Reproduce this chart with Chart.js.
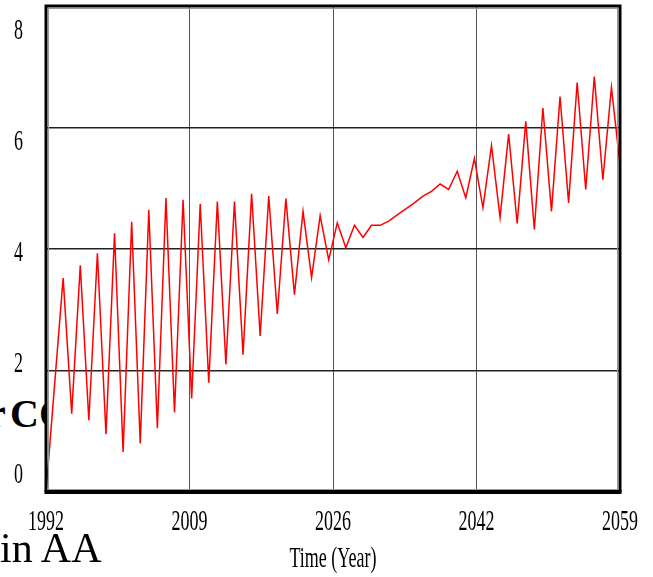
<!DOCTYPE html>
<html><head><meta charset="utf-8">
<script src="https://cdn.jsdelivr.net/npm/chart.js@4"></script>
<style>
html,body{margin:0;padding:0;background:#fff;overflow:hidden}
#wrap{position:relative;width:653px;height:577px}
#c{position:absolute;left:0;top:0;z-index:1}
.bg{position:absolute;font-family:'Liberation Serif','Times New Roman',serif;line-height:1;white-space:nowrap;color:#000}
</style></head>
<body><div id="wrap">
<div class="bg" style="left:-12px;top:394px;font-size:40px;font-weight:bold;word-spacing:-5px;z-index:0">r CO</div>
<div class="bg" style="left:0px;top:527px;font-size:42px;z-index:2">in AA</div>
<canvas id="c" width="653" height="577"></canvas>
</div>
<script>
const years = [1992,1993,1994,1995,1996,1997,1998,1999,2000,2001,2002,2003,2004,2005,2006,2007,2008,2009,2010,2011,2012,2013,2014,2015,2016,2017,2018,2019,2020,2021,2022,2023,2024,2025,2026,2027,2028,2029,2030,2031,2032,2033,2034,2035,2036,2037,2038,2039,2040,2041,2042,2043,2044,2045,2046,2047,2048,2049,2050,2051,2052,2053,2054,2055,2056,2057,2058,2059];
const values = [0,1.76,3.52,1.29,3.73,1.18,3.93,0.95,4.26,0.66,4.45,0.80,4.64,1.05,4.84,1.31,4.81,1.54,4.74,1.80,4.78,2.10,4.78,2.26,4.91,2.57,4.87,2.93,4.83,3.25,4.62,3.53,4.55,3.82,4.43,4.02,4.39,4.19,4.39,4.39,4.46,4.56,4.66,4.76,4.87,4.95,5.07,4.98,5.28,4.84,5.49,4.68,5.70,4.52,5.89,4.42,6.10,4.32,6.32,4.62,6.51,4.76,6.74,4.98,6.84,5.14,6.66,5.39];
const xTickLabels = ['1992','2009','2026','2042','2059'];
const yTickLabels = ['0','2','4','6','8'];
const xTitle = 'Time (Year)';

const FONT = '30px "Liberation Serif", "Times New Roman", serif';
const SQUEEZE = 0.6;
function drawCondensed(ctx, text, x, y){
  ctx.save(); ctx.translate(x, y); ctx.scale(SQUEEZE, 1); ctx.fillText(text, 0, 0); ctx.restore();
}
const framePlugin = {
  id: 'framePlugin',
  beforeDraw(chart){
    const {ctx, chartArea:a} = chart;
    ctx.save(); ctx.fillStyle = '#fff';
    ctx.fillRect(a.left, a.top, a.right - a.left, a.bottom - a.top);
    ctx.restore();
  },
  afterDraw(chart){
    const {ctx, chartArea:a} = chart;
    ctx.save();
    ctx.strokeStyle = '#999'; ctx.lineWidth = 1;
    ctx.strokeRect(a.left + 2.5, a.top + 2.5, a.right - a.left - 5, a.bottom - a.top - 5);
    ctx.strokeStyle = '#000'; ctx.lineWidth = 3;
    ctx.beginPath();
    ctx.moveTo(a.left, a.bottom); ctx.lineTo(a.left, a.top); ctx.lineTo(a.right, a.top); ctx.lineTo(a.right, a.bottom);
    ctx.stroke();
    ctx.lineWidth = 4;
    ctx.beginPath(); ctx.moveTo(a.left - 1.5, a.bottom); ctx.lineTo(a.right + 1.5, a.bottom); ctx.stroke();
    ctx.fillStyle = '#000'; ctx.font = FONT; ctx.textAlign = 'center'; ctx.textBaseline = 'alphabetic';
    const ys = chart.scales.y, xs = chart.scales.x;
    ys.ticks.forEach((t, i) => {
      const p = ys.getPixelForValue(t.value);
      const ly = a.bottom - 19 + (p - a.bottom) * 0.913;
      drawCondensed(ctx, yTickLabels[i], 18.5, ly + 10);
    });
    xs.ticks.forEach((t, i) => {
      drawCondensed(ctx, xTickLabels[i], xs.getPixelForValue(t.value), a.bottom + 38);
    });
    drawCondensed(ctx, xTitle, (a.left + a.right) / 2, a.bottom + 75);
    ctx.restore();
  }
};

new Chart(document.getElementById('c'), {
  type: 'line',
  data: { datasets: [{
    data: years.map((yr, i) => ({x: yr, y: values[i]})),
    borderColor: '#ff0000', borderWidth: 1.5, pointRadius: 0, tension: 0, fill: false
  }]},
  options: {
    responsive: false, animation: false, devicePixelRatio: 1,
    layout: { padding: { top: 6, right: 33, left: 0, bottom: 0 } },
    plugins: { legend: { display: false }, tooltip: { enabled: false } },
    scales: {
      x: {
        type: 'linear', min: years[0], max: years[years.length - 1],
        afterBuildTicks: s => {
          const n = xTickLabels.length - 1;
          s.ticks = xTickLabels.map((l, i) => ({ value: s.min + i * (s.max - s.min) / n }));
        },
        afterFit: s => { s.height = 85; },
        ticks: { display: false },
        grid: { color: '#555', lineWidth: 1, drawTicks: false },
        border: { display: false }
      },
      y: {
        min: 0, max: 8,
        ticks: { display: false, stepSize: 2 },
        afterFit: s => { s.width = 46; },
        grid: { color: '#222', lineWidth: 1.4, drawTicks: false },
        border: { display: false }
      }
    }
  },
  plugins: [framePlugin]
});
</script>
</body></html>
